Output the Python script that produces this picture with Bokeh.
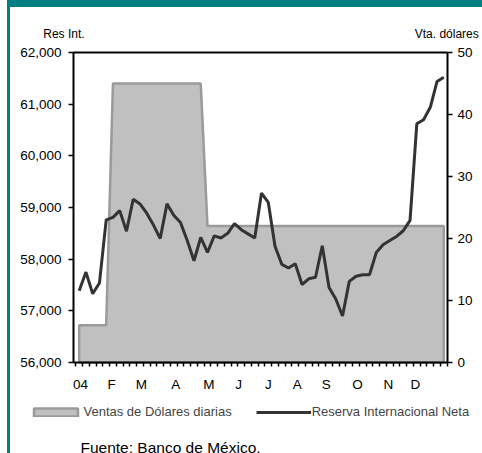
from bokeh.plotting import figure
from bokeh.models import (Range1d, LinearAxis, FixedTicker, NumeralTickFormatter,
                          Label, Legend, LegendItem)
from bokeh.embed import file_html
from bokeh.resources import INLINE

# Weekly observations, 2004
semana = list(range(55))

# Reserva internacional neta (millones de dólares)
reserva = [57390, 57750, 57330, 57540, 58760, 58810, 58940, 58540, 59160, 59070,
           58890, 58660, 58400, 59070, 58850, 58710, 58360, 57970, 58420, 58130,
           58450, 58410, 58500, 58690, 58570, 58490, 58410, 59280, 59100, 58250,
           57900, 57830, 57910, 57510, 57620, 57650, 58260, 57450, 57230, 56900,
           57570, 57670, 57700, 57700, 58130, 58280, 58360, 58440, 58550, 58750,
           60620, 60700, 60940, 61440, 61520]

# Ventas diarias de dólares (millones de dólares)
ventas = [6, 6, 6, 6, 6,
          45, 45, 45, 45, 45, 45, 45, 45, 45, 45, 45, 45, 45, 45,
          22, 22, 22, 22, 22, 22, 22, 22, 22, 22, 22, 22, 22, 22, 22, 22, 22, 22,
          22, 22, 22, 22, 22, 22, 22, 22, 22, 22, 22, 22, 22, 22, 22, 22, 22, 22]

mes_pos = [0.2, 4.8, 9.2, 14.3, 19.2, 23.6, 28.0, 32.3, 36.6, 41.2, 45.8, 49.8]
mes_lbl = ["04", "F", "M", "A", "M", "J", "J", "A", "S", "O", "N", "D"]

res_ticks = [56000, 57000, 58000, 59000, 60000, 61000, 62000]
vta_ticks = [0, 10, 20, 30, 40, 50]

FONT = "Liberation Sans"
TEAL = "#008080"

# plotting extents (the axes sit inside a borderless canvas)
X0, X1 = -0.844, 54.54          # week span covered by the axes
RES0, RES1 = 56000, 62000       # reserves scale
VTA0, VTA1 = 0, 50              # dollar-sales scale

p = figure(width=472, height=446, output_backend="svg", toolbar_location=None,
           x_range=Range1d(-10.175, 59.73), y_range=Range1d(54239, 62871),
           min_border=0, background_fill_color="white",
           border_fill_color="white", outline_line_color=None)
# teal frame on the top and left of the panel
p.styles = {"margin-left": "10px", "margin-top": "7px",
            "box-shadow": (f"0 -7px 0 0 {TEAL}, -3px 0 0 0 {TEAL}, "
                           f"-3px -7px 0 0 {TEAL}, -3px 7px 0 0 {TEAL}")}
p.grid.visible = False
p.extra_y_ranges = {"vta": Range1d(-14.68, 57.26)}

# area for daily dollar sales (right scale)
area_x = [semana[0]] + semana + [semana[-1]]
area_y = [0] + ventas + [0]
area = p.patch(area_x, area_y, y_range_name="vta", fill_color="#c0c0c0",
               line_color="#9a9a9a", line_width=2.5)

# net international reserves (left scale)
linea = p.line(semana, reserva, line_color="#333333", line_width=3)

# axes
xa = p.xaxis[0]
xa.fixed_location = RES0
xa.bounds = (X0, X1)
xa.ticker = FixedTicker(ticks=mes_pos, minor_ticks=[i - 0.5 for i in range(56)])
xa.major_label_overrides = {pos: lbl for pos, lbl in zip(mes_pos, mes_lbl)}
xa.major_tick_out = 0
xa.major_tick_in = 0
xa.minor_tick_out = 4
xa.minor_tick_in = 0
xa.major_label_standoff = 10

ya = p.yaxis[0]
ya.fixed_location = X0
ya.bounds = (RES0, RES1)
ya.ticker = FixedTicker(ticks=res_ticks)
ya.formatter = NumeralTickFormatter(format="0,0")
ya.major_tick_out = 5
ya.major_tick_in = 0
ya.major_label_standoff = 7

yr = LinearAxis(y_range_name="vta", ticker=FixedTicker(ticks=vta_ticks),
                fixed_location=X1, bounds=(VTA0, VTA1))
yr.major_tick_out = 5
yr.major_tick_in = 0
yr.major_label_standoff = 5
p.add_layout(yr, "right")

# closing line along the top of the plotting box
top = LinearAxis(ticker=FixedTicker(ticks=[]), fixed_location=RES1, bounds=(X0, X1))
top.major_tick_line_color = None
top.minor_tick_line_color = None
top.major_label_text_font_size = "0px"
p.add_layout(top, "above")

for ax in (xa, ya, yr, top):
    ax.axis_line_color = "black"
    ax.axis_line_width = 2
    ax.major_label_text_font = FONT
    ax.major_label_text_color = "black"
for ax in (xa, ya, yr):
    ax.major_tick_line_color = "black"
    ax.major_tick_line_width = 1.5
    ax.minor_tick_line_color = "black" if ax is xa else None
    ax.minor_tick_line_width = 1.5
    ax.major_label_text_font_size = "13.5px"

# scale captions
p.add_layout(Label(x=-5.33, y=62366, text="Res Int.", text_font=FONT,
                   text_font_size="12px", text_color="black",
                   text_baseline="alphabetic"))
p.add_layout(Label(x=59.18, y=62366, text="Vta. dólares", text_font=FONT,
                   text_font_size="12px", text_color="black",
                   text_align="right", text_baseline="alphabetic"))

legend = Legend(items=[LegendItem(label="Ventas de Dólares diarias", renderers=[area]),
                       LegendItem(label="Reserva Internacional Neta", renderers=[linea])],
                orientation="horizontal", location=(17.5, 34),
                label_text_font=FONT, label_text_font_size="13px",
                glyph_width=55, glyph_height=10, label_standoff=1, spacing=24,
                padding=0, margin=0, label_height=14,
                border_line_color=None, background_fill_alpha=0)
p.add_layout(legend)

# source note
p.add_layout(Label(x=0.19, y=54360, text="Fuente: Banco de México.",
                   text_font=FONT, text_font_size="15.5px", text_color="black",
                   text_baseline="alphabetic"))

open("out.html", "w").write(file_html(p, INLINE))
